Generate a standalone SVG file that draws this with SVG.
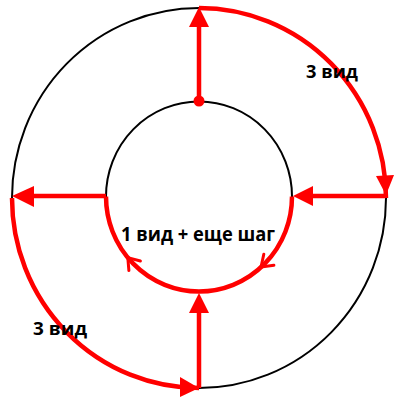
<svg xmlns="http://www.w3.org/2000/svg" width="394" height="398" viewBox="0 0 394 398">
<style>
.ring{fill:none;stroke:#000;stroke-width:2}
.red{fill:none;stroke:#ff0000;stroke-width:4.5}
.head{fill:#ff0000;stroke:none}
.chev{fill:none;stroke:#ff0000;stroke-width:3;stroke-linecap:round;stroke-linejoin:round}
.lbl{font-family:"Open Sans","Liberation Sans",sans-serif;font-weight:bold;fill:#000}
</style>
<rect width="394" height="398" fill="#fff"/>
<g id="outer-circle">
<ellipse class="ring" cx="199" cy="198" rx="187" ry="190"/>
</g>
<g id="inner-circle">
<ellipse class="ring" cx="199" cy="196.5" rx="93" ry="95"/>
</g>
<g id="connectors">
<path class="red" d="M199,8 A187,190 0 0 1 386,198"/>
<path class="red" d="M12,198 A187,190 0 0 0 199,388"/>
<path class="red" d="M292,196.5 A93,95 0 0 1 106,196.5"/>
<line class="red" x1="199" y1="101" x2="199" y2="24"/>
<polygon class="head" points="199,7 189,27 209,27"/>
<circle class="head" cx="199" cy="101" r="5.5"/>
<line class="red" x1="386" y1="196" x2="310" y2="196"/>
<polygon class="head" points="293,196 313,186 313,206"/>
<line class="red" x1="106" y1="196" x2="30" y2="196"/>
<polygon class="head" points="12,196 34,186 34,207"/>
<line class="red" x1="199" y1="388" x2="199" y2="310"/>
<polygon class="head" points="199,293 189,313 209,313"/>
<polygon class="head" points="386,195 376,176 394,175"/>
<polygon class="head" points="199,388 180,377 180,397"/>
<polyline class="chev" points="273.9,265.3 261,267 263.8,254.3"/>
<polyline class="chev" points="140.4,261 127.8,257.6 128.9,270.5"/>
</g>
<g id="label-top">
<text class="lbl" x="306" y="78" font-size="17" textLength="52" lengthAdjust="spacingAndGlyphs">3 вид</text>
</g>
<g id="label-bottom">
<text class="lbl" x="33" y="335" font-size="17" textLength="54" lengthAdjust="spacingAndGlyphs">3 вид</text>
</g>
<g id="label-center">
<text class="lbl" x="121" y="241" font-size="20" textLength="154" lengthAdjust="spacingAndGlyphs">1 вид + еще шаг</text>
</g>
</svg>
